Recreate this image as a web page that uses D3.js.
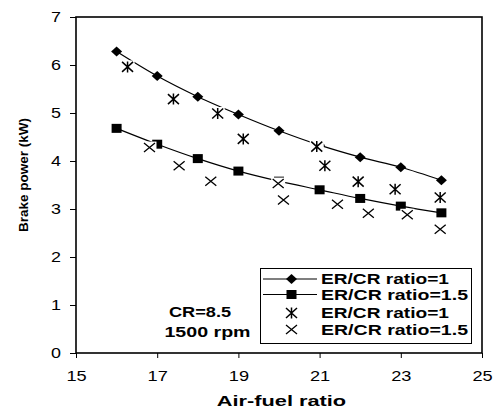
<!DOCTYPE html>
<html>
<head>
<meta charset="utf-8">
<script src="https://cdn.jsdelivr.net/npm/d3@7"></script>
<style>
  body { margin: 0; background: #fff; }
  text { font-family: Arial, "Liberation Sans", sans-serif; fill: #000; }
</style>
</head>
<body>
<svg id="chart" width="497" height="411"></svg>
<script>
// air-fuel ratio and brake power (kW)
var afr = [16, 17, 18, 19, 20, 21, 22, 23, 24];
var bpRatio1 = [6.28, 5.77, 5.34, 4.97, 4.63, 4.33, 4.08, 3.87, 3.60];
var bpRatio15 = [4.68, 4.35, 4.05, 3.79, 3.58, 3.40, 3.22, 3.06, 2.92];
// measured points
var expR1x = [16.27, 17.40, 18.49, 19.12, 20.93, 21.13, 21.95, 22.86, 23.97];
var expR1y = [5.96, 5.29, 4.99, 4.46, 4.30, 3.90, 3.57, 3.41, 3.24];
var expR15x = [16.81, 17.54, 18.32, 19.98, 20.11, 21.44, 22.20, 23.16, 23.97];
var expR15y = [4.28, 3.90, 3.58, 3.53, 3.19, 3.10, 2.91, 2.88, 2.58];
var xTicks = [15, 17, 19, 21, 23, 25];
var yTicks = [0, 1, 2, 3, 4, 5, 6, 7];
var legendLabels = ["ER/CR ratio=1", "ER/CR ratio=1.5", "ER/CR ratio=1", "ER/CR ratio=1.5"];

var svg = d3.select("#chart");
var plotL = 76, plotR = 482, plotT = 17, plotB = 353;

var x = d3.scaleLinear().domain([15, 25]).range([plotL, plotR]);
var y = d3.scaleLinear().domain([0, 7]).range([plotB, plotT]);

// the original picture is stretched sideways, so widen the text a bit
function stretch(sel, k) {
  sel.each(function() {
    var L = this.getComputedTextLength();
    d3.select(this).attr("textLength", L * k).attr("lengthAdjust", "spacingAndGlyphs");
  });
}

var xAxis = svg.append("g")
  .attr("transform", "translate(0," + plotB + ")")
  .call(d3.axisBottom(x).tickValues(xTicks).tickSize(5).tickFormat(d3.format("d")));
xAxis.select(".domain").remove();
xAxis.selectAll("line").attr("stroke", "#000").attr("stroke-width", 1);
xAxis.selectAll("text").attr("y", 28).attr("dy", 0)
  .style("font-size", "14px").style("font-family", "Arial, 'Liberation Sans', sans-serif")
  .call(stretch, 1.3);

var yAxis = svg.append("g")
  .attr("transform", "translate(" + plotL + ",0)")
  .call(d3.axisLeft(y).tickValues(yTicks).tickSize(6).tickFormat(d3.format("d")));
yAxis.select(".domain").remove();
yAxis.selectAll("line").attr("stroke", "#000").attr("stroke-width", 1);
yAxis.selectAll("text").attr("x", -15)
  .style("font-size", "14px").style("font-family", "Arial, 'Liberation Sans', sans-serif")
  .call(stretch, 1.28);

// plot frame
svg.append("rect")
  .attr("x", plotL).attr("y", plotT)
  .attr("width", plotR - plotL).attr("height", plotB - plotT)
  .attr("fill", "none").attr("stroke", "#000").attr("stroke-width", 1.6);

var line = d3.line()
  .x(function(d) { return x(d[0]); })
  .y(function(d) { return y(d[1]); })
  .curve(d3.curveMonotoneX);

var s1 = afr.map(function(a, i) { return [a, bpRatio1[i]]; });
var s15 = afr.map(function(a, i) { return [a, bpRatio15[i]]; });

svg.append("path").datum(s1).attr("d", line)
  .attr("fill", "none").attr("stroke", "#000").attr("stroke-width", 1.2);
svg.append("path").datum(s15).attr("d", line)
  .attr("fill", "none").attr("stroke", "#000").attr("stroke-width", 1.2);

function diamond(g, cx, cy) {
  g.append("path")
    .attr("d", "M" + (cx - 5.5) + "," + cy + "L" + cx + "," + (cy - 5) + "L" + (cx + 5.5) + "," + cy + "L" + cx + "," + (cy + 5) + "Z")
    .attr("fill", "#000");
}
function square(g, cx, cy) {
  g.append("rect").attr("x", cx - 5).attr("y", cy - 4.5).attr("width", 10).attr("height", 9).attr("fill", "#000");
}
function star(g, cx, cy, halo) {
  if (halo) g.append("rect").attr("x", cx - 7).attr("y", cy - 6.5).attr("width", 14).attr("height", 13).attr("fill", "#fff");
  g.append("path")
    .attr("d", "M" + (cx - 5.5) + "," + (cy - 5) + "L" + (cx + 5.5) + "," + (cy + 5) +
               "M" + (cx - 5.5) + "," + (cy + 5) + "L" + (cx + 5.5) + "," + (cy - 5) +
               "M" + cx + "," + (cy - 5.5) + "L" + cx + "," + (cy + 5.5))
    .attr("stroke", "#000").attr("stroke-width", 1.5).attr("fill", "none");
}
function cross(g, cx, cy, halo) {
  if (halo) g.append("rect").attr("x", cx - 7).attr("y", cy - 6).attr("width", 14).attr("height", 12).attr("fill", "#fff");
  g.append("path")
    .attr("d", "M" + (cx - 5.5) + "," + (cy - 4.5) + "L" + (cx + 5.5) + "," + (cy + 4.5) +
               "M" + (cx - 5.5) + "," + (cy + 4.5) + "L" + (cx + 5.5) + "," + (cy - 4.5))
    .attr("stroke", "#000").attr("stroke-width", 1.3).attr("fill", "none");
}

var marks = svg.append("g");
s1.forEach(function(d) { diamond(marks, x(d[0]), y(d[1])); });
s15.forEach(function(d) { square(marks, x(d[0]), y(d[1])); });
expR1x.forEach(function(v, i) { star(marks, x(v), y(expR1y[i]), true); });
expR15x.forEach(function(v, i) { cross(marks, x(v), y(expR15y[i]), true); });

// legend
var lg = svg.append("g");
lg.append("rect").attr("x", 260.5).attr("y", 268.5).attr("width", 211).attr("height", 75)
  .attr("fill", "#fff").attr("stroke", "#000").attr("stroke-width", 1);
var rowY = [279, 294.5, 313, 329.5];
var textW = [128, 147, 128, 147];
rowY.forEach(function(ry, i) {
  if (i < 2) {
    lg.append("line").attr("x1", 263).attr("x2", 317).attr("y1", ry).attr("y2", ry)
      .attr("stroke", "#000").attr("stroke-width", 1.2);
  }
  if (i === 0) diamond(lg, 291.5, ry);
  if (i === 1) square(lg, 291.5, ry);
  if (i === 2) star(lg, 291.5, ry, false);
  if (i === 3) cross(lg, 291.5, ry, false);
  lg.append("text").attr("x", 321).attr("y", ry + 5)
    .style("font-size", "14px").style("font-weight", "bold")
    .attr("textLength", textW[i]).attr("lengthAdjust", "spacingAndGlyphs")
    .text(legendLabels[i]);
});

// annotations
svg.append("text").attr("x", 200).attr("y", 317).attr("text-anchor", "middle")
  .style("font-size", "14px").style("font-weight", "bold").text("CR=8.5").call(stretch, 1.3);
svg.append("text").attr("x", 207.5).attr("y", 337).attr("text-anchor", "middle")
  .style("font-size", "14px").style("font-weight", "bold").text("1500 rpm").call(stretch, 1.4);

// axis titles
svg.append("text").attr("x", 281.5).attr("y", 406).attr("text-anchor", "middle")
  .style("font-size", "15px").style("font-weight", "bold").text("Air-fuel ratio").call(stretch, 1.45);
svg.append("text").attr("text-anchor", "middle")
  .attr("transform", "translate(28,175)rotate(-90)")
  .style("font-size", "13px").style("font-weight", "bold")
  .attr("textLength", 114).attr("lengthAdjust", "spacingAndGlyphs")
  .text("Brake power (kW)");
</script>
</body>
</html>
